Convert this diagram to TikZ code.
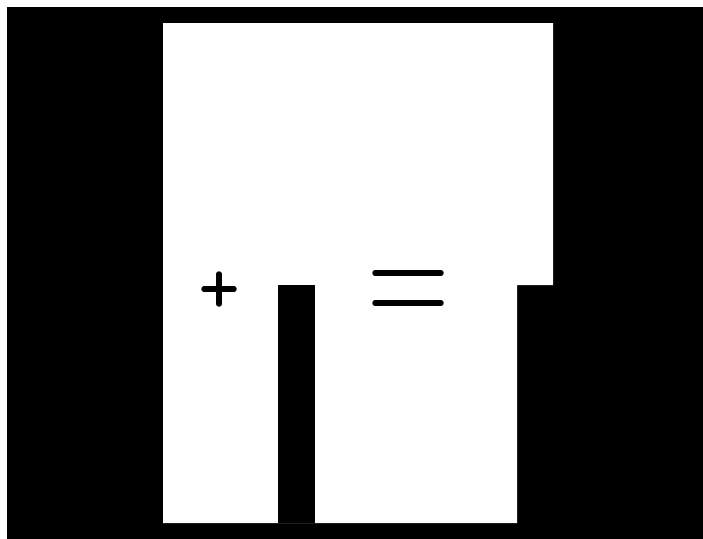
\documentclass[tikz,border=0pt]{standalone}
\usepackage{tikz}

\begin{document}
\begin{tikzpicture}[
  x=0.1mm, y=-0.1mm,
  slab/.style={fill=black, draw=none},
  sheet/.style={fill=white, draw=none},
  stroke/.style={draw=black, line width=0.55mm, line cap=round},
]

\def\xl{163}  % sheet left edge
\def\xr{553}  % sheet right edge (top part)
\def\yt{23}   % sheet top
\def\yb{523}  % sheet bottom
\def\ys{285}  % step height

%% --- Page and background ---
\useasboundingbox (0,0) rectangle (703,539);
\fill[white] (0,0) rectangle (703,539);
\fill[slab] (7,7) rectangle (703,539);

%% --- White sheet with step on the right ---
\fill[sheet] (\xl,\yt) -- (\xr,\yt) -- (\xr,\ys) -- (517,\ys)
  -- (517,\yb) -- (\xl,\yb) -- cycle;

%% --- Black slot from step height down ---
\fill[slab] (278,\ys) rectangle (315,\yb);

%% --- Plus sign ---
\coordinate (pl) at (204,289);
\coordinate (pr) at (234,289);
\coordinate (pt) at (219,274);
\coordinate (pb) at (219,304);
\draw[stroke] (pl) -- (pr);
\draw[stroke] (pt) -- (pb);

%% --- Equals sign ---
\coordinate (ea) at (375,273);
\coordinate (eb) at (441,273);
\coordinate (ec) at (375,303);
\coordinate (ed) at (441,303);
\draw[stroke] (ea) -- (eb);
\draw[stroke] (ec) -- (ed);

\end{tikzpicture}
\end{document}
